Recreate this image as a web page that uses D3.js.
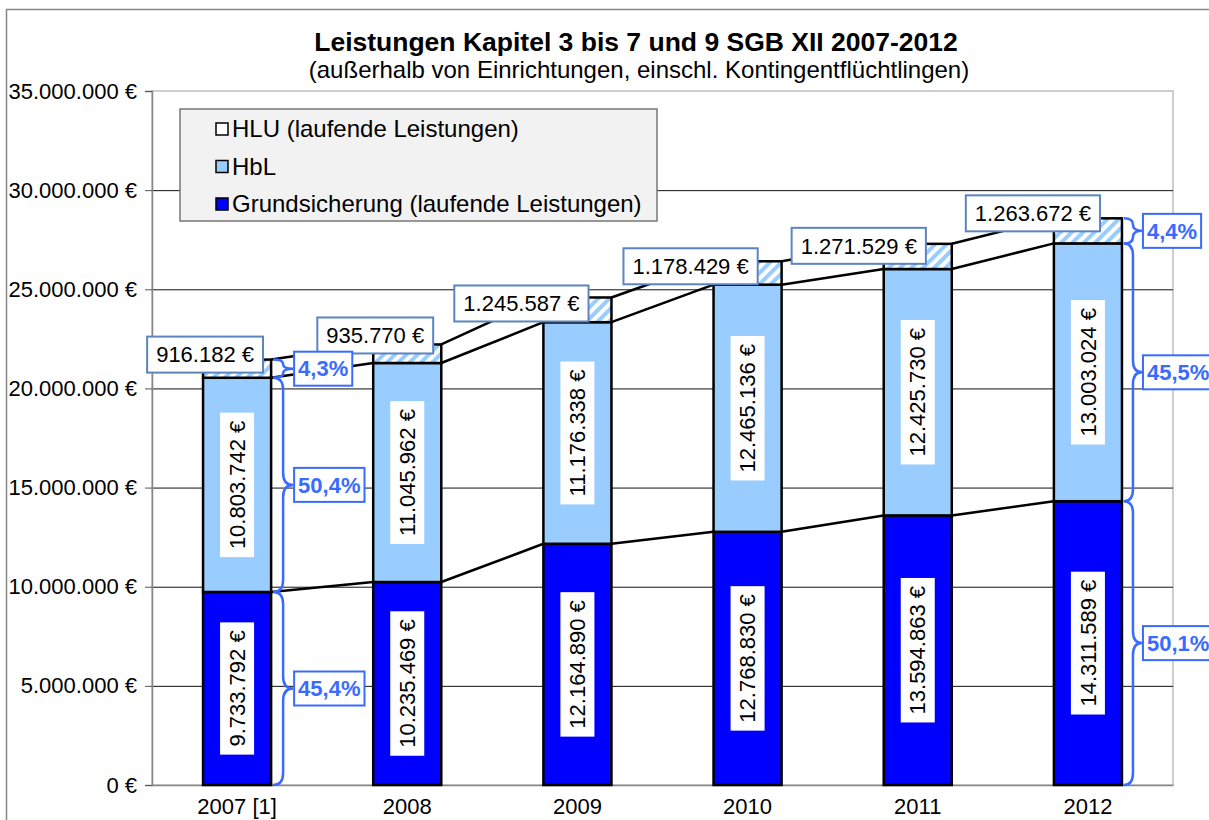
<!DOCTYPE html>
<html>
<head>
<meta charset="utf-8">
<script src="https://cdn.jsdelivr.net/npm/d3@7"></script>
<style>
  body { margin: 0; background: #fff; }
  text { font-family: "Liberation Sans", Arial, sans-serif; }
</style>
</head>
<body>
<div id="chart"></div>
<script>
// data
var years = ["2007 [1]", "2008", "2009", "2010", "2011", "2012"];
var grund = [9733792, 10235469, 12164890, 12768830, 13594863, 14311589];
var hbl = [10803742, 11045962, 11176338, 12465136, 12425730, 13003024];
var hlu = [916182, 935770, 1245587, 1178429, 1271529, 1263672];
var yTicks = [0, 5000000, 10000000, 15000000, 20000000, 25000000, 30000000, 35000000];
var legendLabels = ["HLU (laufende Leistungen)", "HbL", "Grundsicherung (laufende Leistungen)"];

// hand placement of the HLU labels (like in the original workbook)
var hluDx = [-32, -32, -56, -57, -59, -55];
var hluDy = [-5, -9, 6, 5, 2, -5];

var svgWidth = 1209;
var svgHeight = 820;
var plot = { left: 152, right: 1173, top: 91, bottom: 785 };
var fontSize = "22px";

var de = d3.formatLocale({ decimal: ",", thousands: ".", grouping: [3], currency: ["", " €"] });
var fmtEuro = function (v) { return de.format(",.0f")(v) + " €"; };
var fmtPct = function (v) { return de.format(".1f")(v * 100) + "%"; };

var svg = d3.select("#chart")
    .append("svg")
    .attr("width", svgWidth)
    .attr("height", svgHeight);

// hatch for the HLU part
var pat = svg.append("defs").append("pattern")
    .attr("id", "hatch")
    .attr("patternUnits", "userSpaceOnUse")
    .attr("width", 8)
    .attr("height", 8)
    .attr("patternTransform", "rotate(45)");
pat.append("rect").attr("width", 8).attr("height", 8).attr("fill", "#fff");
pat.append("rect").attr("width", 4).attr("height", 8).attr("fill", "#99CCFF");

// outer chart frame
svg.append("rect")
    .attr("x", 6.5).attr("y", 9.5)
    .attr("width", 1250).attr("height", 850)
    .attr("fill", "#fff")
    .attr("stroke", "#868686")
    .attr("stroke-width", 1.5);

// title
svg.append("text")
    .attr("x", 636).attr("y", 51)
    .attr("text-anchor", "middle")
    .attr("font-size", "26.5px")
    .attr("font-weight", "bold")
    .text("Leistungen Kapitel 3 bis 7 und 9 SGB XII 2007-2012");
svg.append("text")
    .attr("x", 639).attr("y", 78)
    .attr("text-anchor", "middle")
    .attr("font-size", "24px")
    .text("(außerhalb von Einrichtungen, einschl. Kontingentflüchtlingen)");

var xScale = d3.scaleBand()
    .domain(years)
    .range([plot.left, plot.right])
    .paddingInner(0.6)
    .paddingOuter(0.3);

var yScale = d3.scaleLinear()
    .domain([0, 35000000])
    .range([plot.bottom, plot.top]);

// plot border + grid
svg.append("rect")
    .attr("x", plot.left).attr("y", plot.top)
    .attr("width", plot.right - plot.left)
    .attr("height", plot.bottom - plot.top)
    .attr("fill", "none")
    .attr("stroke", "#bfbfbf")
    .attr("stroke-width", 1.5);

svg.append("g")
    .selectAll("line")
    .data(yTicks.slice(1, -1))
    .enter()
    .append("line")
    .attr("x1", plot.left).attr("x2", plot.right)
    .attr("y1", d => yScale(d) + 0.5).attr("y2", d => yScale(d) + 0.5)
    .attr("stroke", "#111")
    .attr("stroke-width", 1);

var leftAxis = d3.axisLeft(yScale)
    .tickValues(yTicks)
    .tickSize(7)
    .tickPadding(8)
    .tickFormat(fmtEuro);
var gy = svg.append("g")
    .attr("transform", `translate(${plot.left}, 0)`)
    .call(leftAxis);
gy.selectAll("text").attr("font-size", fontSize).attr("fill", "#000").style("font-family", "'Liberation Sans', Arial, sans-serif");
gy.selectAll("line").attr("stroke", "#555");
gy.select(".domain").attr("stroke", "#868686").attr("stroke-width", 1.5);

var bottomAxis = d3.axisBottom(xScale).tickSize(0).tickPadding(13);
var gx = svg.append("g")
    .attr("transform", `translate(0, ${plot.bottom})`)
    .call(bottomAxis);
gx.selectAll("text").attr("font-size", fontSize).attr("fill", "#000").style("font-family", "'Liberation Sans', Arial, sans-serif");
gx.select(".domain").attr("stroke", "#868686").attr("stroke-width", 1.5);

// stacked data
var table = years.map((y, i) => ({ year: y, grund: grund[i], hbl: hbl[i], hlu: hlu[i] }));
var keys = ["grund", "hbl", "hlu"];
var fills = { grund: "#0000FF", hbl: "#99CCFF", hlu: "url(#hatch)" };
var series = d3.stack().keys(keys)(table);

// series lines between the bars
series.forEach(function (s) {
    var segs = d3.pairs(s);
    svg.append("g")
        .selectAll("line")
        .data(segs)
        .enter()
        .append("line")
        .attr("x1", d => xScale(d[0].data.year) + xScale.bandwidth())
        .attr("y1", d => yScale(d[0][1]))
        .attr("x2", d => xScale(d[1].data.year))
        .attr("y2", d => yScale(d[1][1]))
        .attr("stroke", "#000")
        .attr("stroke-width", 2.5);
});

// bars
series.forEach(function (s) {
    svg.append("g")
        .selectAll("rect")
        .data(s)
        .enter()
        .append("rect")
        .attr("x", d => xScale(d.data.year))
        .attr("y", d => yScale(d[1]))
        .attr("width", xScale.bandwidth())
        .attr("height", d => yScale(d[0]) - yScale(d[1]))
        .attr("fill", fills[s.key])
        .attr("stroke", "#000")
        .attr("stroke-width", 2.5);
});

// rotated value labels inside the two lower segments
series.slice(0, 2).forEach(function (s) {
    var g = svg.append("g")
        .selectAll("g")
        .data(s)
        .enter()
        .append("g")
        .attr("transform", d => `translate(${xScale(d.data.year) + xScale.bandwidth() / 2}, ${(yScale(d[0]) + yScale(d[1])) / 2}) rotate(-90)`);
    g.append("text")
        .attr("text-anchor", "middle")
        .attr("dy", "0.35em")
        .attr("font-size", fontSize)
        .text(d => fmtEuro(d[1] - d[0]));
    g.insert("rect", "text")
        .each(function () {
            var w = this.nextSibling.getComputedTextLength();
            d3.select(this)
                .attr("x", -w / 2 - 8).attr("y", -17)
                .attr("width", w + 16).attr("height", 34)
                .attr("fill", "#fff");
        });
});

// HLU labels above the bars
var topSeries = series[2];
var hg = svg.append("g")
    .selectAll("g")
    .data(topSeries)
    .enter()
    .append("g")
    .attr("transform", (d, i) => `translate(${xScale(d.data.year) + xScale.bandwidth() / 2 + hluDx[i]}, ${yScale(d[1]) + hluDy[i]})`);
hg.append("text")
    .attr("text-anchor", "middle")
    .attr("dy", "0.35em")
    .attr("font-size", fontSize)
    .text(d => fmtEuro(d[1] - d[0]));
hg.insert("rect", "text")
    .each(function () {
        var w = this.nextSibling.getComputedTextLength();
        d3.select(this)
            .attr("x", -w / 2 - 9).attr("y", -18)
            .attr("width", w + 18).attr("height", 36)
            .attr("fill", "#fff")
            .attr("stroke", "#5B84C0")
            .attr("stroke-width", 2);
    });

// braces with shares for first and last year
var braceColor = "#3A6BFF";
function bracePath(x0, y0, y1, w) {
    var ym = (y0 + y1) / 2;
    var r = Math.min(12, (y1 - y0) / 4);
    var xm = x0 + w / 2;
    return `M${x0},${y0} Q${xm},${y0} ${xm},${y0 + r} L${xm},${ym - r} Q${xm},${ym} ${x0 + w},${ym}` +
        ` Q${xm},${ym} ${xm},${ym + r} L${xm},${y1 - r} Q${xm},${y1} ${x0},${y1}`;
}

[0, years.length - 1].forEach(function (i) {
    var total = grund[i] + hbl[i] + hlu[i];
    var x0 = xScale(years[i]) + xScale.bandwidth() + 2;
    var w = i === 0 ? 20 : 18;
    series.forEach(function (s) {
        var d = s[i];
        var ya = yScale(d[1]), yb = yScale(d[0]);
        svg.append("path")
            .attr("d", bracePath(x0, ya, yb, w))
            .attr("fill", "none")
            .attr("stroke", braceColor)
            .attr("stroke-width", 2.5);
        var lg = svg.append("g")
            .attr("transform", `translate(${x0 + w + 1}, ${(ya + yb) / 2})`);
        var t = lg.append("text")
            .attr("x", 4)
            .attr("dy", "0.35em")
            .attr("font-size", fontSize)
            .attr("font-weight", "bold")
            .attr("fill", braceColor)
            .text(fmtPct((d[1] - d[0]) / total));
        var tw = t.node().getComputedTextLength();
        lg.insert("rect", "text")
            .attr("x", 0).attr("y", -17)
            .attr("width", tw + 8).attr("height", 34)
            .attr("fill", "#fff")
            .attr("stroke", braceColor)
            .attr("stroke-width", 2);
    });
});

// legend
var legend = svg.append("g").attr("transform", "translate(180, 109)");
legend.append("rect")
    .attr("width", 477).attr("height", 112)
    .attr("fill", "#F2F2F2")
    .attr("stroke", "#777")
    .attr("stroke-width", 1.5);
var legendFills = ["#fff", "#99CCFF", "#0000FF"];
var items = legend.selectAll("g.item")
    .data(legendLabels)
    .enter()
    .append("g")
    .attr("class", "item")
    .attr("transform", (d, i) => `translate(36, ${20 + i * 37.5})`);
items.append("rect")
    .attr("x", 0).attr("y", -6)
    .attr("width", 12).attr("height", 12)
    .attr("fill", (d, i) => legendFills[i])
    .attr("stroke", "#000")
    .attr("stroke-width", 1.5);
items.append("text")
    .attr("x", 16)
    .attr("dy", "0.35em")
    .attr("font-size", "24px")
    .text(d => d);
</script>
</body>
</html>
